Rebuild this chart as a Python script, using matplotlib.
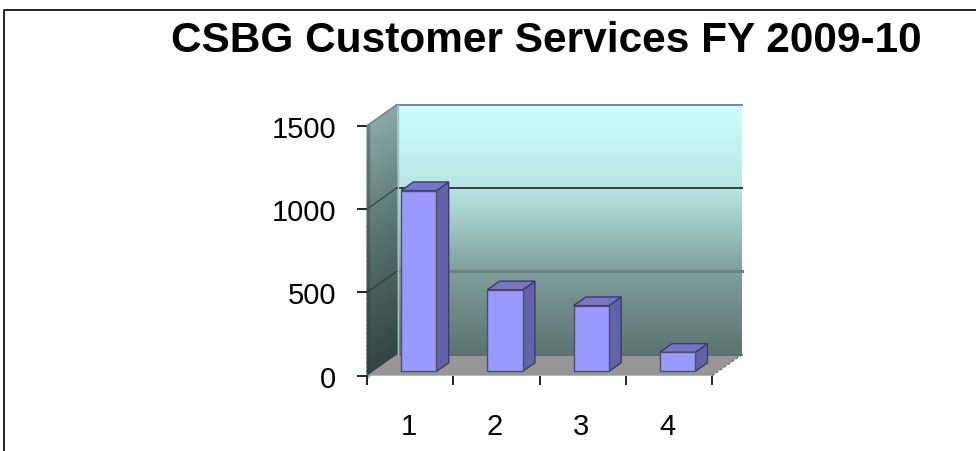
import numpy as np
import matplotlib
matplotlib.use("Agg")
import matplotlib.pyplot as plt
from matplotlib.colors import LinearSegmentedColormap
from matplotlib.patches import Polygon, Rectangle

title = "CSBG Customer Services FY 2009-10"
categories = ["1", "2", "3", "4"]
values = [1085, 490, 395, 115]
y_ticks = [0, 500, 1000, 1500]

W, H = 976, 452
plt.rcParams["font.family"] = ["Liberation Sans", "DejaVu Sans"]

fig = plt.figure(figsize=(W / 100, H / 100), dpi=100)

# front plane of the 3d box, in pixels
left, right, bottom, top = 367, 712, 376.7, 126.7
ax = fig.add_axes([left / W, 1 - bottom / H, (right - left) / W, (bottom - top) / H])
ax.set_xlim(0, 4)
ax.set_ylim(0, 1500)

# depth of the box in data units
dx = 30 / 86.25
dy = 127

back_cmap = LinearSegmentedColormap.from_list("back", ["#5c7472", "#7f9e9b", "#b6e6e4", "#ccffff"])
side_cmap = LinearSegmentedColormap.from_list("side", ["#334442", "#55706d", "#8aa9a6"])

g = np.linspace(0, 1, 100)[:, None]
ax.imshow(g, origin="lower", extent=(dx, 4 + dx, dy, 1500 + dy), aspect="auto",
          cmap=back_cmap, clip_on=False, zorder=1)

# side wall, skewed gradient
d = np.array([0, dx])
vals = np.linspace(0, 1500, 60)
X = np.tile(d, (60, 1))
Y = np.column_stack([vals, vals + dy])
C = np.column_stack([vals / 1500, vals / 1500])
ax.pcolormesh(X, Y, C, cmap=side_cmap, shading="gouraud", clip_on=False, zorder=1)
ax.plot([0.015, 0.015], [0, 1500], color="#2c3b3a", lw=2.5, alpha=0.35, clip_on=False, zorder=2)

# floor
ax.add_patch(Polygon([(0, 0), (4, 0), (4 + dx, dy), (dx, dy)], closed=True,
                     facecolor="#969696", edgecolor="none", clip_on=False, zorder=2))
ax.plot([4, 4 + dx], [0, dy], color="#707070", lw=1, ls=(0, (2, 1.5)), clip_on=False, zorder=2)
ax.plot([dx, 4 + dx], [dy, dy], color="#55686a", lw=1.2, clip_on=False, zorder=2)

# gridlines, back wall and side wall coloured apart
back_cols = {500: "#6b8482", 1000: "#2f4241", 1500: "#808080"}
back_lw = {500: 2.2, 1000: 1.4, 1500: 1.4}
side_cols = {500: "#2f4241", 1000: "#3d5250", 1500: "#808080"}
for v in y_ticks[1:]:
    ax.plot([dx, 4 + dx], [v + dy, v + dy], color=back_cols[v], lw=back_lw[v],
            clip_on=False, zorder=3)
    ax.plot([0, dx], [v, v + dy], color=side_cols[v], lw=1.1, clip_on=False, zorder=3)
ax.plot([dx + 0.01, dx + 0.01], [dy, 1500 + dy], color="#9fc4c2", lw=1, clip_on=False, zorder=3)

# bars
bar_w = 0.41
d0, d1 = 0.2, 0.61
for i, v in enumerate(values):
    x0 = i + 0.5 - bar_w / 2 + 0.03
    x1 = x0 + bar_w
    ox0, oy0 = d0 * dx, d0 * dy
    ox1, oy1 = d1 * dx, d1 * dy
    ax.add_patch(Polygon([(x1 + ox0, oy0), (x1 + ox1, oy1), (x1 + ox1, v + oy1), (x1 + ox0, v + oy0)],
                         closed=True, facecolor="#6262a8", edgecolor="#3c3c70", lw=1, clip_on=False, zorder=4))
    ax.add_patch(Polygon([(x0 + ox0, v + oy0), (x1 + ox0, v + oy0), (x1 + ox1, v + oy1), (x0 + ox1, v + oy1)],
                         closed=True, facecolor="#7676c4", edgecolor="#3c3c70", lw=1, clip_on=False, zorder=4))
    ax.add_patch(Rectangle((x0 + ox0, oy0), bar_w, v, facecolor="#9999ff",
                           edgecolor="#50505f", lw=1, clip_on=False, zorder=5))

for s in ax.spines.values():
    s.set_visible(False)

ax.set_yticks(y_ticks)
ax.set_xticks(range(5))
ax.set_xticklabels([])
ax.set_xticks(np.arange(len(categories)) + 0.48, categories, minor=True)
ax.tick_params(axis="x", which="major", direction="out", length=6.5, width=1.2, color="black")
ax.tick_params(axis="x", which="minor", length=0, pad=26, labelsize=21)
ax.tick_params(axis="y", direction="out", length=7.2, width=1.2, color="black", pad=15, labelsize=21)

# chart border, open on the right
fig.add_artist(plt.Line2D([3.5 / W, 3.5 / W, 1], [0, 1 - 11 / H, 1 - 11 / H],
                          color="black", lw=1.2))

fig.text(546 / W, 1 - 41 / H, title, ha="center", va="center", fontsize=30.5, fontweight="bold")

fig.savefig("out.png", dpi=100, facecolor="white")
